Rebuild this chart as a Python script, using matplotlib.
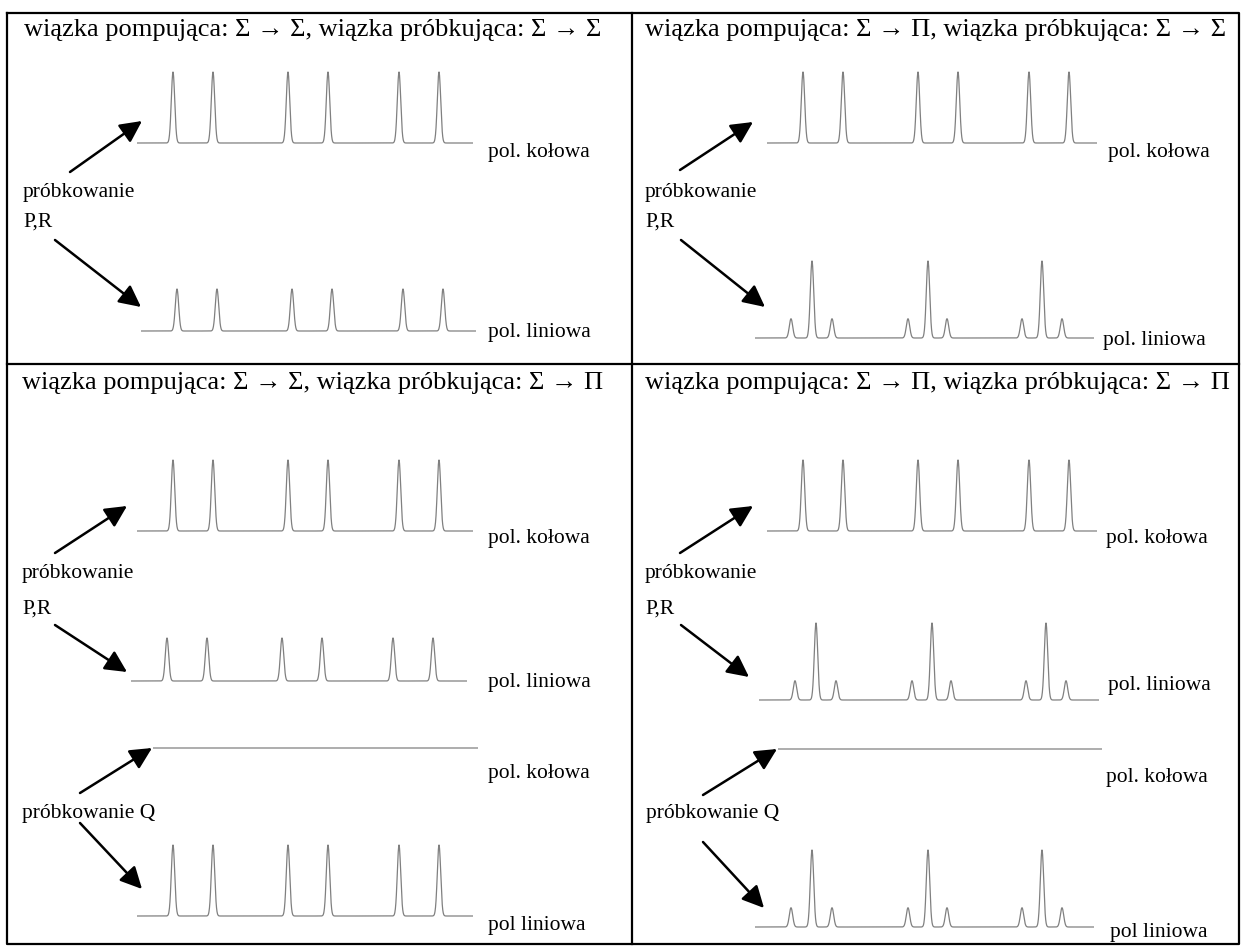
import numpy as np
import matplotlib
matplotlib.use("Agg")
import matplotlib.pyplot as plt

plt.rcParams['font.family'] = ['Liberation Serif', 'DejaVu Serif']

# line positions (offset from trace start) and relative intensities
sig_sig_lines = [36, 76, 151, 191, 262, 302]
sig_sig_heights = [1, 1, 1, 1, 1, 1]
sig_pi_lines = [36, 57, 77, 153, 173, 192, 267, 287, 307]
sig_pi_heights = [0.25, 1, 0.25, 0.25, 1, 0.25, 0.25, 1, 0.25]

headers = [
    "wiązka pompująca: Σ → Σ, wiązka próbkująca: Σ → Σ",
    "wiązka pompująca: Σ → Π, wiązka próbkująca: Σ → Σ",
    "wiązka pompująca: Σ → Σ, wiązka próbkująca: Σ → Π",
    "wiązka pompująca: Σ → Π, wiązka próbkująca: Σ → Π",
]

W, H = 1243, 947
fig = plt.figure(figsize=(W / 100, H / 100), dpi=100)
ax = fig.add_axes([0, 0, 1, 1])
ax.set_xlim(0, W)
ax.set_ylim(H, 0)
ax.axis('off')

TRACE = '#808080'
HEAD_FS = 19.0
LAB_FS = 15.5


def trace(x0, x1, base, amp, lines=None, heights=None, sigma=1.7):
    x = np.linspace(x0, x1, 2000)
    y = np.zeros_like(x)
    if lines is not None:
        for c, h in zip(lines, heights):
            y += h * np.exp(-0.5 * ((x - x0 - c) / sigma) ** 2)
    ax.plot(x, base - amp * y, color=TRACE, lw=0.9, solid_capstyle='butt')


def arrow(tail, tip):
    ax.annotate('', xy=tip, xytext=tail,
                arrowprops=dict(arrowstyle='-|>', color='black', lw=1.8,
                                mutation_scale=33, shrinkA=0, shrinkB=0))


def label(x, y, s, fs=LAB_FS):
    ax.text(x, y, s, fontsize=fs, ha='left', va='baseline')


# table frame
ax.plot([7, 1239, 1239, 7, 7], [13, 13, 944, 944, 13], color='black', lw=1.6)
ax.plot([632, 632], [13, 944], color='black', lw=1.6)
ax.plot([7, 1239], [364, 364], color='black', lw=1.6)

# headers
label(24, 36, headers[0], HEAD_FS)
label(645, 36, headers[1], HEAD_FS)
label(22, 389, headers[2], HEAD_FS)
label(645, 389, headers[3], HEAD_FS)

# top-left panel
trace(137, 473, 143, 71, sig_sig_lines, sig_sig_heights)
trace(141, 476, 331, 42, sig_sig_lines, sig_sig_heights)
arrow((70, 172), (142, 121))
arrow((55, 240), (141, 307))
label(23, 197, "próbkowanie")
label(23, 227, "P,R")
label(488, 157, "pol. kołowa")
label(488, 337, "pol. liniowa")

# top-right panel
trace(767, 1097, 143, 71, sig_sig_lines, sig_sig_heights)
trace(755, 1094, 338, 77, sig_pi_lines, sig_pi_heights)
arrow((680, 170), (753, 122))
arrow((681, 240), (765, 307))
label(645, 197, "próbkowanie")
label(645, 227, "P,R")
label(1108, 157, "pol. kołowa")
label(1103, 345, "pol. liniowa")

# bottom-left panel
trace(137, 473, 531, 71, sig_sig_lines, sig_sig_heights)
trace(131, 467, 681, 43, sig_sig_lines, sig_sig_heights)
trace(153, 478, 748, 0)
trace(137, 473, 916, 71, sig_sig_lines, sig_sig_heights)
arrow((55, 553), (127, 506))
arrow((55, 625), (127, 672))
arrow((80, 793), (152, 748))
arrow((80, 823), (142, 889))
label(22, 578, "próbkowanie")
label(22, 614, "P,R")
label(22, 818, "próbkowanie Q")
label(488, 543, "pol. kołowa")
label(488, 687, "pol. liniowa")
label(488, 778, "pol. kołowa")
label(488, 930, "pol liniowa")

# bottom-right panel
trace(767, 1097, 531, 71, sig_sig_lines, sig_sig_heights)
trace(759, 1099, 700, 77, sig_pi_lines, sig_pi_heights)
trace(778, 1102, 749, 0)
trace(755, 1094, 927, 77, sig_pi_lines, sig_pi_heights)
arrow((680, 553), (753, 506))
arrow((681, 625), (749, 677))
arrow((703, 795), (777, 749))
arrow((703, 842), (764, 908))
label(645, 578, "próbkowanie")
label(645, 614, "P,R")
label(646, 818, "próbkowanie Q")
label(1106, 543, "pol. kołowa")
label(1108, 690, "pol. liniowa")
label(1106, 782, "pol. kołowa")
label(1110, 937, "pol liniowa")

fig.savefig('out.png', dpi=100)
